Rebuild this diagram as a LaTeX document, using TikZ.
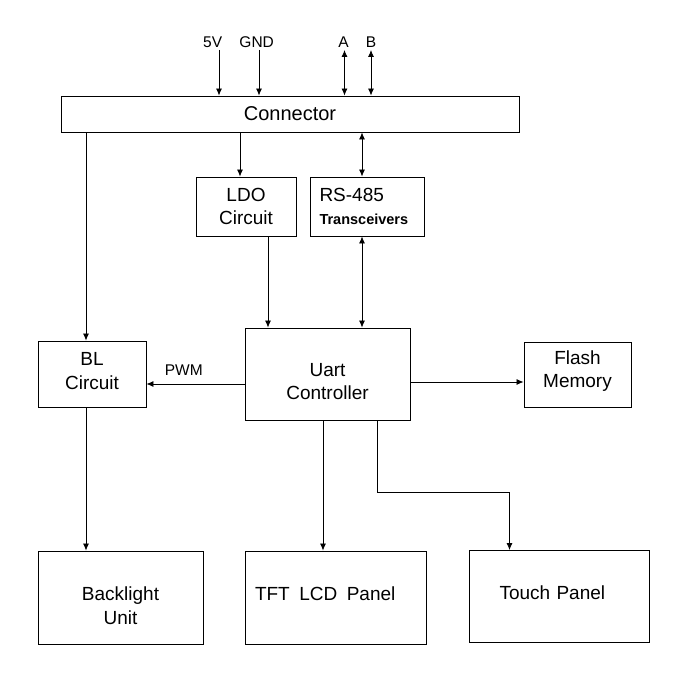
\documentclass[tikz,border=0pt]{standalone}
\usepackage{fontspec}
\setmainfont{Liberation Sans}
\usetikzlibrary{arrows.meta,positioning}
\tikzset{
block/.style = {draw, line width=0.9pt, fill=white, rectangle, align=center, font=\fontsize{19}{23.5}\selectfont},
tmp/.style  = {coordinate},
input/.style = {coordinate},
sig/.style = {font=\fontsize{15.5}{18}\selectfont, inner sep=0pt, anchor=south, yshift=2pt}
}
\begin{document}
\begin{tikzpicture}[auto, x=1pt, y=1pt, >={Latex[length=7pt,width=6pt]}, line width=0.8pt]
	\useasboundingbox (0,0) rectangle (690,-685);
	\node[block, minimum width=458pt, minimum height=36pt, font=\fontsize{20}{24}\selectfont] (connector) at (290,-114) {Connector};
	\node[block, below of=connector, xshift=-44pt, node distance=92.5pt, minimum width=100pt, minimum height=59pt] (ldo) {LDO\\Circuit};
	\node[block, right of=ldo, node distance=121.5pt, minimum width=114pt, minimum height=59pt, align=left, text width=96pt, inner xsep=9pt] (rs485) {RS-485\\{\fontsize{14.5}{17}\selectfont\bfseries Transceivers}};
	\node[block, below of=rs485, xshift=-40pt, node distance=167.5pt, minimum width=165pt, minimum height=92pt] (uart) {\rule{0pt}{28.6pt}Uart\\Controller};
	\node[block, left of=uart, node distance=235.5pt, minimum width=108pt, minimum height=66pt] (bl) {BL\\Circuit\rule[-6pt]{0pt}{0pt}};
	\node[block, right of=uart, node distance=250pt, yshift=-0.5pt, minimum width=107pt, minimum height=65pt] (flash) {Flash\\Memory\rule[-11pt]{0pt}{0pt}};
	\node[block, below of=uart, xshift=8pt, node distance=223.5pt, minimum width=181pt, minimum height=93pt, align=left, text width=161pt, inner xsep=10pt] (tft) {TFT\,~LCD\,~Panel\rule[-7pt]{0pt}{0pt}};
	\node[block, left of=tft, node distance=215pt, minimum width=165pt, minimum height=93pt] (backlight) {\rule{0pt}{30pt}Backlight\\Unit};
	\node[block, right of=tft, node distance=224pt, yshift=1pt, minimum width=180pt, minimum height=92pt, align=left, text width=120pt, inner xsep=30pt] (touch) {Touch Panel\rule[-7pt]{0pt}{0pt}};
	\node[input] (in5v) at (219,-50) {};
	\node[input] (ingnd) at (259,-50) {};
	\node[input] (ina) at (344.5,-50) {};
	\node[input] (inb) at (371,-50) {};
	% connector pins
	\draw[->] (in5v) node[sig, name=l5v, xshift=-6.3pt] {5V} -- (in5v |- connector.north);
	\draw[->] (ingnd) node[sig, name=lgnd, xshift=-2.3pt] {GND} -- (ingnd |- connector.north);
	\draw[<->] (ina) node[sig, name=la, xshift=-1pt] {A} -- (ina |- connector.north);
	\draw[<->] (inb) node[sig, name=lb] {B} -- (inb |- connector.north);
	\draw[->] ([xshift=-6pt]ldo.north |- connector.south) -- ([xshift=-6pt]ldo.north);
	\draw[<->] ([xshift=-5.5pt]rs485.north |- connector.south) -- ([xshift=-5.5pt]rs485.north);
	\draw[->] ([xshift=-6pt]bl.north |- connector.south) -- ([xshift=-6pt]bl.north);
	\draw[->] ([xshift=22pt]ldo.south) -- ([xshift=22pt]ldo.south |- uart.north);
	\draw[<->] ([xshift=-5.5pt]rs485.south) -- ([xshift=-5.5pt]rs485.south |- uart.north);
	% uart outputs
	\draw[->] ([yshift=-10pt]uart.west) -- node[sig, name=pwm, pos=0.62, yshift=6pt] {PWM} ([yshift=-10pt]uart.west -| bl.east);
	\draw[->] ([yshift=-8pt]uart.east) -- ([yshift=-8pt]uart.east -| flash.west);
	\draw[->] ([xshift=-4.5pt]uart.south) -- ([xshift=-4.5pt]uart.south |- tft.north);
	\draw[->] ([xshift=49.5pt]uart.south) -- ++(0,-71.7) -| ([xshift=-50pt]touch.north);
	\draw[->] ([xshift=-6pt]bl.south) -- ([xshift=-6pt]bl.south |- backlight.north);
\end{tikzpicture}
\end{document}
